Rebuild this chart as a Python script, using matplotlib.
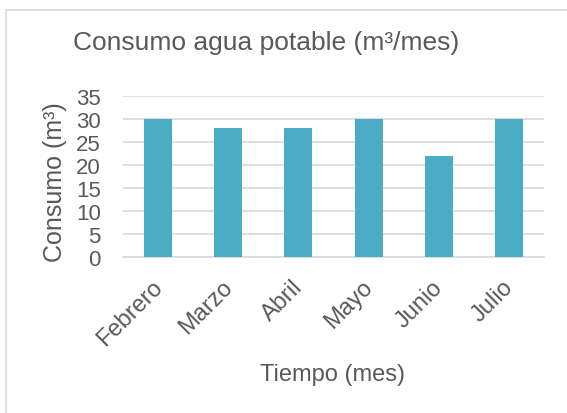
import matplotlib.pyplot as plt
from matplotlib.patches import Rectangle
from matplotlib.transforms import ScaledTranslation

meses = ["Febrero", "Marzo", "Abril", "Mayo", "Junio", "Julio"]
consumo = [30, 28, 28, 30, 22, 30]
y_ticks = [0, 5, 10, 15, 20, 25, 30, 35]

plt.rcParams['font.family'] = ['Liberation Sans', 'DejaVu Sans']
gris = '#595959'

fig = plt.figure(figsize=(5.67, 4.14), dpi=100)
fig.patches.append(Rectangle((6 / 567, -0.1), 1.2, (414 - 11) / 414 + 0.1,
                             transform=fig.transFigure, fill=False,
                             edgecolor='#d9d9d9', linewidth=1.2))

ax = fig.add_axes([123 / 567, (414 - 258) / 414, (544 - 123) / 567, (258 - 97) / 414])
x = range(len(meses))
ax.bar(x, consumo, width=0.4, color='#4bacc6', zorder=3)

ax.set_xlim(-0.5, len(meses) - 0.5)
ax.set_ylim(0, 35)
ax.set_yticks(y_ticks)
ax.yaxis.grid(True, color='#d9d9d9', linewidth=1.2)
for s in ['top', 'right', 'left']:
    ax.spines[s].set_visible(False)
ax.spines['bottom'].set_color('#d9d9d9')
ax.spines['bottom'].set_linewidth(1.2)
ax.tick_params(axis='both', length=0, labelsize=16, colors=gris)
ax.tick_params(axis='y', pad=16)

ax.set_xticks(list(x))
ax.set_xticklabels(meses, rotation=45, ha='right', rotation_mode='anchor', fontsize=17)
offset = ScaledTranslation(-0.07, -0.14, fig.dpi_scale_trans)
for lbl in ax.get_xticklabels():
    lbl.set_transform(lbl.get_transform() + offset)

fig.text(55 / 567, (414 - 182) / 414, 'Consumo (m³)', fontsize=18, color=gris,
         ha='center', va='center', rotation=90)
fig.text(333 / 567, (414 - 375) / 414, 'Tiempo (mes)', fontsize=17, color=gris,
         ha='center', va='center')
fig.text(266 / 567, (414 - 43) / 414, 'Consumo agua potable (m³/mes)', fontsize=19,
         color=gris, ha='center', va='center')

fig.savefig('out.png', dpi=100)
